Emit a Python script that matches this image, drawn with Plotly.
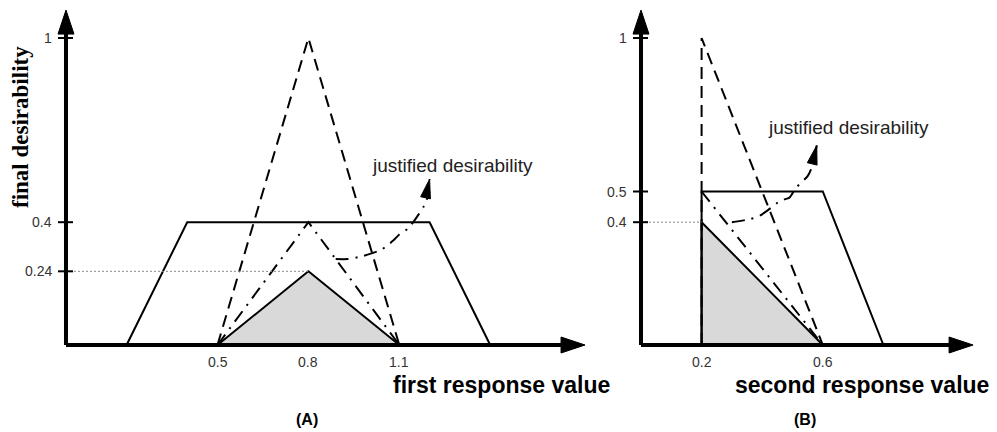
import plotly.graph_objects as go

W, H = 997, 432

# ---------------- panel (A): first response ----------------
a_trap_x = [0.2, 0.4, 1.2, 1.4]
a_trap_y = [0.0, 0.4, 0.4, 0.0]
a_dash_x = [0.5, 0.8, 1.1]
a_dash_y = [0.0, 1.0, 0.0]
a_dashdot_x = [0.5, 0.8, 1.1]
a_dashdot_y = [0.0, 0.4, 0.0]
a_final_x = [0.5, 0.8, 1.1]
a_final_y = [0.0, 0.24, 0.0]
a_just_x = [0.89, 0.93, 0.98, 1.04, 1.08, 1.10, 1.13, 1.16, 1.18, 1.19]
a_just_y = [0.28, 0.28, 0.29, 0.31, 0.34, 0.36, 0.38, 0.42, 0.45, 0.47]
a_just_tip = (1.20, 0.54)
a_xticks = [0.5, 0.8, 1.1]
a_xtick_text = ["0.5", "0.8", "1.1"]
a_yticks = [1.0, 0.4, 0.24]
a_ytick_text = ["1", "0.4", "0.24"]
a_guide = (0.8, 0.24)      # dotted guide from the axis to the peak

# ---------------- panel (B): second response ----------------
b_trap_x = [0.2, 0.2, 0.6, 0.8]
b_trap_y = [0.0, 0.5, 0.5, 0.0]
b_dash_x = [0.2, 0.2, 0.6]
b_dash_y = [0.0, 1.0, 0.0]
b_dashdot_x = [0.2, 0.6]
b_dashdot_y = [0.5, 0.0]
b_final_x = [0.2, 0.2, 0.6]
b_final_y = [0.0, 0.4, 0.0]
b_just_x = [0.30, 0.36, 0.39, 0.42, 0.46, 0.49, 0.51, 0.55, 0.56, 0.57]
b_just_y = [0.40, 0.41, 0.42, 0.44, 0.47, 0.48, 0.51, 0.55, 0.57, 0.60]
b_just_tip = (0.58, 0.65)
b_xticks = [0.2, 0.6]
b_xtick_text = ["0.2", "0.6"]
b_yticks = [1.0, 0.5, 0.4]
b_ytick_text = ["1", "0.5", "0.4"]
b_guide = (0.2, 0.4)

# axis extents (data units) and ranges of the two overlaid x axes
A_XEND, B_XEND, Y_END = 1.713, 1.096, 1.091
XA_RANGE = [-0.2178, 3.0726]
XB_RANGE = [-2.1155, 1.1749]
Y_RANGE = [-0.2834, 1.1238]

SX = W / (XA_RANGE[1] - XA_RANGE[0])   # pixels per x unit
SY = H / (Y_RANGE[1] - Y_RANGE[0])     # pixels per y unit

DASH = "12px,7px"
DASHDOT = "13px,7px,2px,7px"
GREY = "#d9d9d9"
TICK_FONT = dict(family="Liberation Sans, Arial", size=14, color="#333333")

fig = go.Figure()
shapes = []
annotations = []


def px_x(p):
    return p / SX


def px_y(p):
    return p / SY


def arrow_head(tip, frm, xref, length=20, half=6):
    """Filled triangular arrowhead at `tip`, pointing away from `frm`."""
    tx, ty = tip[0] * SX, tip[1] * SY
    fx, fy = frm[0] * SX, frm[1] * SY
    dx, dy = tx - fx, ty - fy
    n = (dx * dx + dy * dy) ** 0.5
    ux, uy = dx / n, dy / n
    bx, by = tx - ux * length, ty - uy * length
    p1 = (bx - uy * half, by + ux * half)
    p2 = (bx + uy * half, by - ux * half)
    pts = [(tx, ty), p1, p2]
    path = "M " + " L ".join(f"{x / SX:.5f},{y / SY:.5f}" for x, y in pts) + " Z"
    return dict(type="path", path=path, xref=xref, yref="y",
                fillcolor="black", line=dict(color="black", width=1), layer="above")


def panel(xaxis, xref, trap, dash, dashdot, final, just, tip, xticks, xtick_text,
          yticks, ytick_text, guide, x_end):
    # shaded final desirability
    fig.add_trace(go.Scatter(x=final[0], y=final[1], xaxis=xaxis, yaxis="y",
                             mode="lines", fill="toself", fillcolor=GREY,
                             line=dict(color="black", width=2), hoverinfo="skip"))
    # dashed membership function
    fig.add_trace(go.Scatter(x=dash[0], y=dash[1], xaxis=xaxis, yaxis="y",
                             mode="lines", line=dict(color="black", width=2, dash=DASH),
                             hoverinfo="skip"))
    # dash-dot membership function
    fig.add_trace(go.Scatter(x=dashdot[0], y=dashdot[1], xaxis=xaxis, yaxis="y",
                             mode="lines", line=dict(color="black", width=2, dash=DASHDOT),
                             hoverinfo="skip"))
    # trapezoid
    fig.add_trace(go.Scatter(x=trap[0], y=trap[1], xaxis=xaxis, yaxis="y",
                             mode="lines", line=dict(color="black", width=2),
                             hoverinfo="skip"))
    # justified desirability pointer
    fig.add_trace(go.Scatter(x=just[0] + [tip[0]], y=just[1] + [tip[1]], xaxis=xaxis, yaxis="y",
                             mode="lines", line=dict(color="black", width=2, dash=DASHDOT,
                                                     shape="spline", smoothing=0.6),
                             hoverinfo="skip"))
    shapes.append(arrow_head(tip, (just[0][-2], just[1][-2]), xref, length=19, half=5))

    # dotted guide line
    shapes.append(dict(type="line", xref=xref, yref="y", x0=0, x1=guide[0],
                       y0=guide[1], y1=guide[1],
                       line=dict(color="#888888", width=1, dash="2px,2px")))

    # axes with arrowheads
    shapes.append(dict(type="line", xref=xref, yref="y", x0=0, x1=x_end - px_x(20),
                       y0=0, y1=0, line=dict(color="black", width=4), layer="above"))
    shapes.append(dict(type="line", xref=xref, yref="y", x0=0, x1=0,
                       y0=0, y1=Y_END - px_y(20), line=dict(color="black", width=4),
                       layer="above"))
    shapes.append(arrow_head((x_end, 0), (0, 0), xref, length=24, half=8))
    shapes.append(arrow_head((0, Y_END), (0, 0), xref, length=24, half=8))

    # y ticks
    for v, t in zip(yticks, ytick_text):
        shapes.append(dict(type="line", xref=xref, yref="y", x0=-px_x(8), x1=px_x(7),
                           y0=v, y1=v, line=dict(color="black", width=2), layer="above"))
        annotations.append(dict(x=-px_x(12), y=v, xref=xref, yref="y", text=t,
                                showarrow=False, xanchor="right", yanchor="middle",
                                font=TICK_FONT))
    # x tick labels
    for v, t in zip(xticks, xtick_text):
        annotations.append(dict(x=v, y=-px_y(17), xref=xref, yref="y", text=t,
                                showarrow=False, xanchor="center", yanchor="middle",
                                font=TICK_FONT))


panel("x", "x", (a_trap_x, a_trap_y), (a_dash_x, a_dash_y), (a_dashdot_x, a_dashdot_y),
      (a_final_x, a_final_y), (a_just_x, a_just_y), a_just_tip, a_xticks, a_xtick_text,
      a_yticks, a_ytick_text, a_guide, A_XEND)
panel("x2", "x2", (b_trap_x, b_trap_y), (b_dash_x, b_dash_y), (b_dashdot_x, b_dashdot_y),
      (b_final_x, b_final_y), (b_just_x, b_just_y), b_just_tip, b_xticks, b_xtick_text,
      b_yticks, b_ytick_text, b_guide, B_XEND)

LABEL_FONT = dict(family="Liberation Sans, Arial", size=23, color="black")
NOTE_FONT = dict(family="Liberation Sans, Arial", size=19, color="#222222")

annotations += [
    dict(x=-0.152, y=0.71, xref="x", yref="y", text="<b>final desirability</b>",
         textangle=-90, showarrow=False, xanchor="center", yanchor="middle",
         font=dict(family="Liberation Serif, Times New Roman", size=23, color="black")),
    dict(x=1.436, y=-0.130, xref="x", yref="y", text="<b>first response value</b>",
         showarrow=False, xanchor="center", yanchor="middle", font=LABEL_FONT),
    dict(x=0.728, y=-0.130, xref="x2", yref="y", text="<b>second response value</b>",
         showarrow=False, xanchor="center", yanchor="middle", font=LABEL_FONT),
    dict(x=0.795, y=-0.244, xref="x", yref="y", text="<b>(A)</b>",
         showarrow=False, xanchor="center", yanchor="middle",
         font=dict(family="Liberation Sans, Arial", size=16, color="black")),
    dict(x=0.541, y=-0.244, xref="x2", yref="y", text="<b>(B)</b>",
         showarrow=False, xanchor="center", yanchor="middle",
         font=dict(family="Liberation Sans, Arial", size=16, color="black")),
    dict(x=1.277, y=0.586, xref="x", yref="y", text="justified desirability",
         showarrow=False, xanchor="center", yanchor="middle", font=NOTE_FONT),
    dict(x=0.686, y=0.710, xref="x2", yref="y", text="justified desirability",
         showarrow=False, xanchor="center", yanchor="middle", font=NOTE_FONT),
]

fig.update_layout(
    width=W, height=H,
    margin=dict(l=0, r=0, t=0, b=0),
    paper_bgcolor="white", plot_bgcolor="white",
    showlegend=False,
    xaxis=dict(range=XA_RANGE, domain=[0, 1], visible=False, fixedrange=True),
    xaxis2=dict(range=XB_RANGE, domain=[0, 1], overlaying="x", anchor="y",
                visible=False, fixedrange=True),
    yaxis=dict(range=Y_RANGE, domain=[0, 1], visible=False, fixedrange=True),
    shapes=shapes,
    annotations=annotations,
)

fig.write_html("out.html")
